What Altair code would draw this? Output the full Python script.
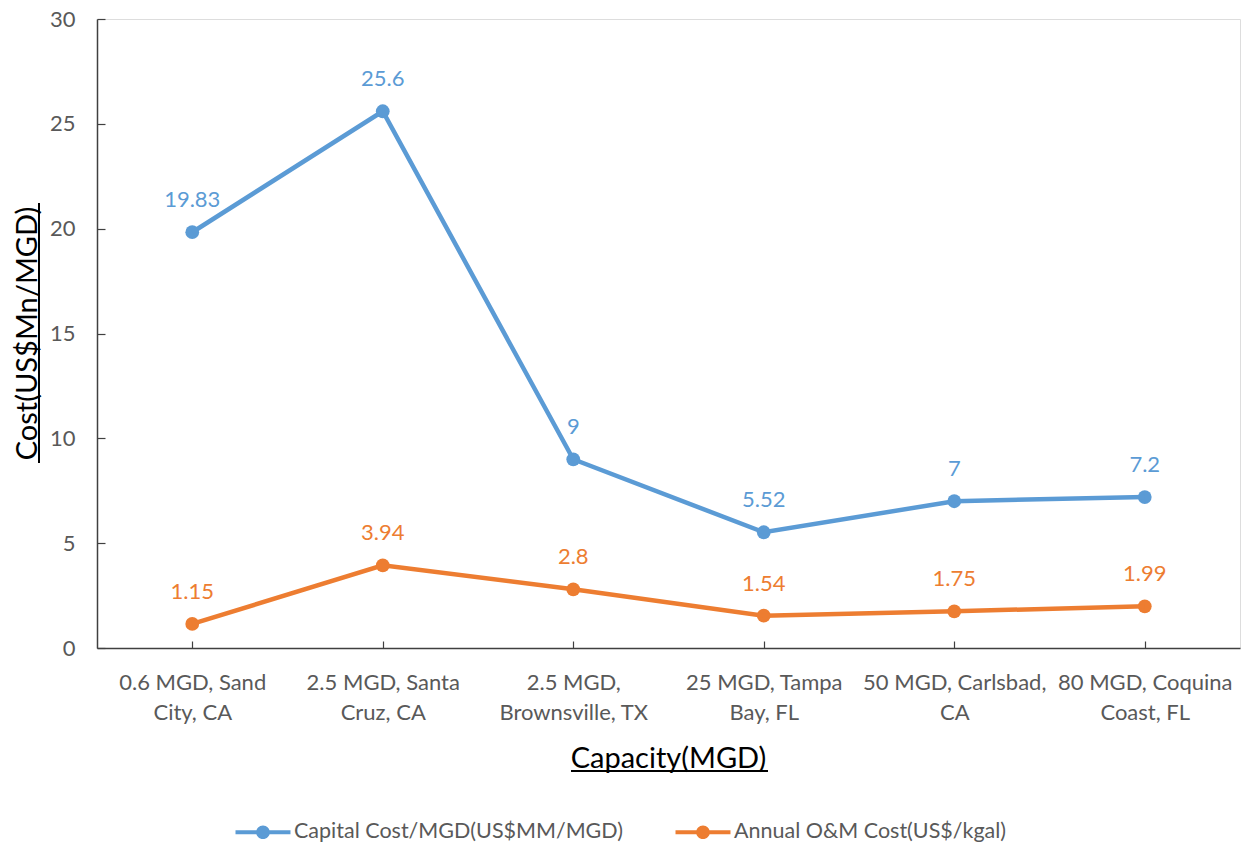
import altair as alt
import pandas as pd

categories = [
    "0.6 MGD, Sand\nCity, CA",
    "2.5 MGD, Santa\nCruz, CA",
    "2.5 MGD,\nBrownsville, TX",
    "25 MGD, Tampa\nBay, FL",
    "50 MGD, Carlsbad,\nCA",
    "80 MGD, Coquina\nCoast, FL",
]
capital_cost = [19.83, 25.6, 9, 5.52, 7, 7.2]
om_cost = [1.15, 3.94, 2.8, 1.54, 1.75, 1.99]
series_names = ["Capital Cost/MGD(US$MM/MGD)", "Annual O&M Cost(US$/kgal)"]
series_colors = ["#5B9BD5", "#ED7D31"]
y_ticks = [0, 5, 10, 15, 20, 25, 30]

rows = []
for cat, v in zip(categories, capital_cost):
    rows.append({"cat": cat, "series": series_names[0], "value": v, "label": f"{v:g}"})
for cat, v in zip(categories, om_cost):
    rows.append({"cat": cat, "series": series_names[1], "value": v, "label": f"{v:g}"})
df = pd.DataFrame(rows)

FONT = "Lato"
GRAY = "#595959"

x_scale = alt.Scale(type="point", domain=categories, padding=0.5)
y_scale = alt.Scale(domain=[0, 30], nice=False, zero=True)
color_scale = alt.Scale(domain=series_names, range=series_colors)

legend_path = ("M-2,-0.15L2,-0.15L2,0.15L-2,0.15Z "
               "M0.5,0A0.5,0.5,0,1,1,-0.5,0A0.5,0.5,0,1,1,0.5,0Z")


def make_legend():
    return alt.Legend(
        orient="none", legendX=138, legendY=799, direction="horizontal", title=None,
        symbolType=legend_path, symbolSize=756, symbolStrokeWidth=0,
        symbolOffset=14, labelOffset=17, columnPadding=52, symbolOpacity=1,
        labelFont=FONT, labelFontSize=21.5, labelColor=GRAY, padding=0, labelLimit=500,
    )


base = alt.Chart(df)

lines = base.mark_line(strokeWidth=4.5).encode(
    x=alt.X("cat:N", scale=x_scale, sort=categories,
            axis=alt.Axis(orient="bottom", title="Capacity(MGD)", labelAngle=0,
                          labelExpr="split(datum.label, '\\n')",
                          labelFont=FONT, labelFontSize=22, labelColor=GRAY,
                          labelLineHeight=30, labelBaseline="top", labelPadding=24,
                          labelLimit=400,
                          ticks=False, tickSize=0, domain=True, domainColor="#404040",
                          domainWidth=1.5, grid=False,
                          titleFont=FONT, titleFontSize=29, titleFontWeight="normal",
                          titleColor="#000000", titleX=571, titleY=119,
                          titleBaseline="alphabetic", titleAlign="center")),
    y=alt.Y("value:Q", scale=y_scale,
            axis=alt.Axis(orient="left", title="Cost(US$Mn/MGD)", values=y_ticks,
                          labelFont=FONT, labelFontSize=22, labelColor=GRAY,
                          labelPadding=22, ticks=False, tickSize=0, domain=True,
                          domainColor="#404040", domainWidth=1.5, grid=False,
                          titleFont=FONT, titleFontSize=29, titleFontWeight="normal",
                          titleColor="#000000", titleAngle=-90, titleX=-61, titleY=314,
                          titleBaseline="alphabetic", titleAlign="center")),
    color=alt.Color("series:N", scale=color_scale, legend=None),
)

points = base.mark_circle(size=190, opacity=1).encode(
    x=alt.X("cat:N", scale=x_scale, sort=categories,
            axis=alt.Axis(orient="bottom", offset=-7, tickSize=7, ticks=True,
                          tickColor="#404040", tickWidth=1.2, labels=False,
                          domain=False, grid=False, title=None)),
    y=alt.Y("value:Q", scale=y_scale,
            axis=alt.Axis(orient="left", offset=-8, tickSize=8, ticks=True,
                          values=y_ticks, tickColor="#404040", tickWidth=1.2,
                          labels=False, domain=False, grid=False, title=None)),
    color=alt.Color("series:N", scale=color_scale, legend=make_legend()),
)

texts = base.mark_text(dy=-32, font=FONT, fontSize=22, baseline="middle").encode(
    x=alt.X("cat:N", scale=x_scale, sort=categories, axis=None),
    y=alt.Y("value:Q", scale=y_scale, axis=None),
    text="label:N",
    color=alt.Color("series:N", scale=color_scale, legend=None),
)

deco = pd.DataFrame({"k": [0]})
x_underline = alt.Chart(deco).mark_rule(color="#000000", strokeWidth=2).encode(
    x=alt.value(474), x2=alt.value(671), y=alt.value(752))
y_underline = alt.Chart(deco).mark_rule(color="#000000", strokeWidth=2).encode(
    x=alt.value(-58), y=alt.value(184), y2=alt.value(444))

chart = alt.layer(points, lines, texts, x_underline, y_underline).resolve_axis(
    x="independent", y="independent"
).resolve_legend(
    color="independent"
).properties(
    width=1143, height=629,
    autosize=alt.AutoSizeParams(type="none"),
    padding={"left": 97, "top": 19, "right": 2, "bottom": 195},
).configure_view(
    stroke="#595959", strokeWidth=1.5
).configure(background="white")

chart.save("out.html", embed_options={"renderer": "svg", "actions": False})
